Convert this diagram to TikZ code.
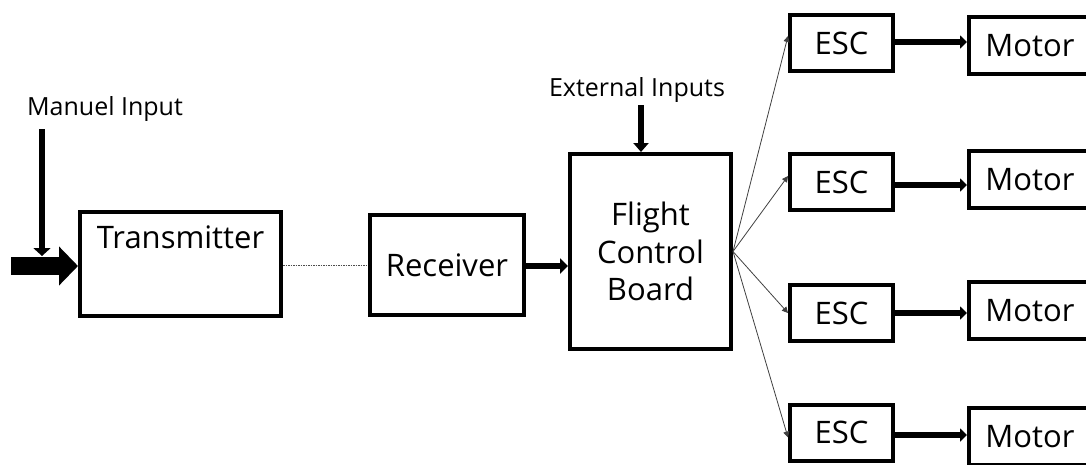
\documentclass[tikz,border=0pt]{standalone}
\usepackage{fontspec}
\setmainfont{Open Sans}
\usetikzlibrary{arrows.meta,calc}
\begin{document}
\begin{tikzpicture}[x=1pt,y=-1pt,
  box/.style={draw, line width=4pt, inner sep=0pt, font=\fontsize{31}{37.5}\selectfont},
  boxtext/.style={inner sep=0pt, font=\fontsize{31}{37.5}\selectfont},
  small/.style={font=\fontsize{25}{28}\selectfont, inner sep=0pt},
  thickarrow/.style={line width=6pt, -{Triangle[length=8pt,width=14pt]}},
  thinarrow/.style={line width=0.8pt, draw=black!75, -{Triangle[length=6pt,width=6pt]}},
]
\useasboundingbox (0,0) rectangle (1086,464);

% left part
\node[box, minimum width=201pt, minimum height=104pt] (tx) at (180.5,264) {};
\node[boxtext, anchor=base] (txlabel) at (180.5,248) {Transmitter};
\node[box, minimum width=154pt, minimum height=100pt] (rx) at (447,265) {Receiver};
\node[box, minimum width=161pt, minimum height=195pt, align=center] (fcb) at (650.5,251.5) {Flight\\Control\\Board};

\node[small] (mi) at (105,109) {Manuel Input};
\node[small] (ei) at (637,90) {External Inputs};

% ESC and Motor
\foreach \i/\ey/\my in {1/43/45.5, 2/182/179.5, 3/313/310.5, 4/432.5/436.5}{
  \node[box, minimum width=103pt, minimum height=56pt] (esc\i) at (841.5,\ey) {ESC};
  \node[box, minimum width=122pt, minimum height=57pt] (mot\i) at (1030,\my) {Motor};
}

% big input arrow
\coordinate (bigstart) at (11,266);
\draw[line width=18pt, -{Triangle[length=19pt,width=38pt]}] (bigstart) -- (bigstart -| tx.west);

% manual input arrow
\coordinate (mistart) at (42,129);
\coordinate (miend) at (42,256);
\draw[line width=6pt, -{Triangle[length=8pt,width=17pt]}] (mistart) -- (miend);

% external input arrow
\coordinate (eistart) at (641,105);
\draw[thickarrow, -{Triangle[length=9pt,width=15pt]}] (eistart) -- (eistart |- fcb.north);

% dotted link
\draw[line width=0.8pt, draw=black!70, dash pattern=on 1.5pt off 1pt] (tx.east |- rx.west) -- (rx.west);

% receiver -> fcb
\draw[thickarrow, -{Triangle[length=8pt,width=15pt]}] (rx.east |- 0,266) -- (fcb.west |- 0,266);

% fan out
\draw[thinarrow] (fcb.east) -- ([yshift=7pt]esc1.west);
\draw[thinarrow] (fcb.east) -- ([yshift=6pt]esc2.west);
\draw[thinarrow] (fcb.east) -- (esc3.west);
\draw[thinarrow] (fcb.east) -- ([yshift=-5pt]esc4.west);

% esc -> motor
\draw[thickarrow, -{Triangle[length=7pt,width=13pt]}] (esc1.east |- 0,42) -- (mot1.west |- 0,42);
\draw[thickarrow, -{Triangle[length=7pt,width=13pt]}] (esc2.east |- 0,185) -- (mot2.west |- 0,185);
\draw[thickarrow, -{Triangle[length=7pt,width=13pt]}] (esc3.east |- 0,313) -- (mot3.west |- 0,313);
\draw[thickarrow, -{Triangle[length=7pt,width=13pt]}] (esc4.east |- 0,435) -- (mot4.west |- 0,435);
\end{tikzpicture}
\end{document}
